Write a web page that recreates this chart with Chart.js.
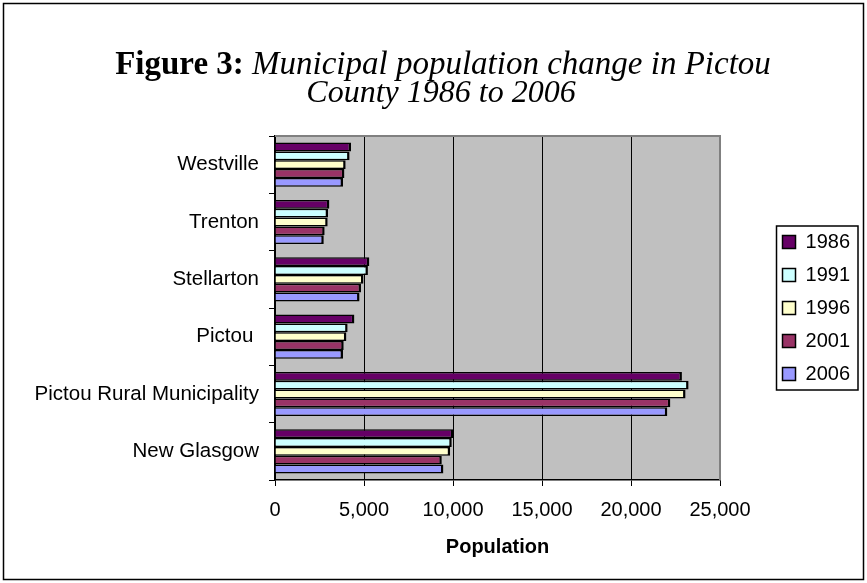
<!DOCTYPE html>
<html><head><meta charset="utf-8">
<script src="https://cdn.jsdelivr.net/npm/chart.js@4/dist/chart.umd.min.js"></script>
<style>html,body{margin:0;padding:0;background:#fff}#wrap{width:867px;height:583px;position:relative}canvas{display:block}</style>
</head><body><div id="wrap"><canvas id="c" width="867" height="583"></canvas></div>
<script>
const categories = ['Westville','Trenton','Stellarton','Pictou ','Pictou Rural Municipality','New Glasgow'];
const years = ['1986','1991','1996','2001','2006'];
const pop1986 = [4270, 3055, 5300, 4460, 22860, 10020];
const pop1991 = [4190, 2980, 5220, 4080, 23235, 9930];
const pop1996 = [3970, 2960, 4970, 4010, 23065, 9840];
const pop2001 = [3900, 2790, 4830, 3860, 22210, 9370];
const pop2006 = [3820, 2740, 4750, 3820, 22040, 9460];
const xTicks = [0, 5000, 10000, 15000, 20000, 25000];
const titleBold = 'Figure 3:';
const titleItalic = ' Municipal population change in Pictou';
const titleLine2 = 'County 1986 to 2006';
const axisTitle = 'Population';
const colors = ['#660066','#CCFFFF','#FFFFCC','#993366','#9999FF'];

const SANS = '"Liberation Sans", Arial, sans-serif';
const SERIF = '"Liberation Serif", "Times New Roman", serif';
const series = [pop1986, pop1991, pop1996, pop2001, pop2006];

const bgPlugin = {
  id: 'bg',
  beforeDraw(chart) {
    const {ctx, chartArea: a} = chart;
    ctx.save();
    ctx.fillStyle = '#fff';
    ctx.fillRect(0, 0, chart.width, chart.height);
    ctx.fillStyle = '#C0C0C0';
    ctx.fillRect(a.left, a.top, a.right - a.left, a.bottom - a.top);
    ctx.restore();
  },
  afterDatasetsDraw(chart) {
    const {ctx, chartArea: a} = chart;
    ctx.save();
    ctx.strokeStyle = '#808080';
    ctx.lineWidth = 2;
    ctx.beginPath();
    ctx.moveTo(a.left, a.top);
    ctx.lineTo(a.right, a.top);
    ctx.lineTo(a.right, a.bottom);
    ctx.stroke();
    ctx.restore();
  },
  afterDraw(chart) {
    const {ctx} = chart;
    ctx.save();
    ctx.strokeStyle = '#000';
    ctx.lineWidth = 1.5;
    ctx.strokeRect(3.5, 3.5, chart.width - 7, chart.height - 7);
    const hb = chart.legend.legendHitBoxes;
    if (hb && hb.length) {
      const f = hb[0], l = hb[hb.length - 1];
      const left = f.left - 6, top = f.top - 6;
      const right = f.left + f.width + 8, bottom = l.top + l.height + 6;
      ctx.strokeRect(left, top, right - left, bottom - top);
    }
    const cx = 443;
    ctx.fillStyle = '#000';
    ctx.textBaseline = 'alphabetic';
    const fb = 'bold 33px ' + SERIF, fi = 'italic 33px ' + SERIF;
    ctx.font = fb; const wb = ctx.measureText(titleBold).width;
    ctx.font = fi; const wi = ctx.measureText(titleItalic).width;
    const x0 = cx - (wb + wi) / 2;
    ctx.textAlign = 'left';
    ctx.font = fb; ctx.fillText(titleBold, x0, 74);
    ctx.font = fi; ctx.fillText(titleItalic, x0 + wb, 74);
    ctx.font = 'italic 32px ' + SERIF;
    ctx.textAlign = 'center';
    ctx.fillText(titleLine2, 441, 102);
    ctx.restore();
  }
};

new Chart(document.getElementById('c'), {
  type: 'bar',
  data: {
    labels: categories,
    datasets: years.map((y, i) => ({
      label: y,
      data: series[i],
      backgroundColor: colors[i],
      borderColor: '#000',
      borderWidth: {top: 1.5, bottom: 1.5, right: 2.5, left: 0},
      borderSkipped: 'start',
      categoryPercentage: 0.77,
      barPercentage: 1.0
    }))
  },
  options: {
    indexAxis: 'y',
    responsive: false,
    animation: false,
    devicePixelRatio: 1,
    layout: {padding: {left: 0, top: 136, right: 7, bottom: 20}},
    scales: {
      x: {
        type: 'linear', position: 'bottom', min: 0, max: 25000,
        afterBuildTicks: s => { s.ticks = xTicks.map(v => ({value: v})); },
        ticks: {color: '#000', font: {family: SANS, size: 20}, padding: 12,
                callback: v => Number(v).toLocaleString('en-US')},
        grid: {color: '#000', lineWidth: 1, tickLength: 6, tickColor: '#000', drawOnChartArea: true},
        border: {color: '#000', width: 1.5},
        title: {display: true, text: axisTitle, color: '#000',
                font: {family: SANS, size: 20, weight: 'bold'}, padding: {top: 1, bottom: 4}}
      },
      y: {
        type: 'category', position: 'left', offset: true,
        grid: {offset: true, drawOnChartArea: false, tickLength: 6, tickColor: '#000'},
        border: {color: '#000', width: 1.5},
        ticks: {color: '#000', font: {family: SANS, size: 20.5}, padding: 10, autoSkip: false},
        afterFit: s => { s.width = 275; }
      },
      y2: {
        type: 'linear', position: 'right', display: true,
        grid: {display: false}, ticks: {display: false}, border: {display: false},
        afterFit: s => { s.width = 49.5; }
      }
    },
    plugins: {
      legend: {
        position: 'right', fullSize: false, align: 'center',
        labels: {
          boxWidth: 13, boxHeight: 13, padding: 13, color: '#000',
          font: {family: SANS, size: 20},
          generateLabels: chart => Chart.defaults.plugins.legend.labels.generateLabels(chart)
            .map(l => Object.assign(l, {lineWidth: 1.5, strokeStyle: '#000'}))
        }
      },
      title: {display: false},
      tooltip: {enabled: false}
    }
  },
  plugins: [bgPlugin]
});
</script></body></html>
